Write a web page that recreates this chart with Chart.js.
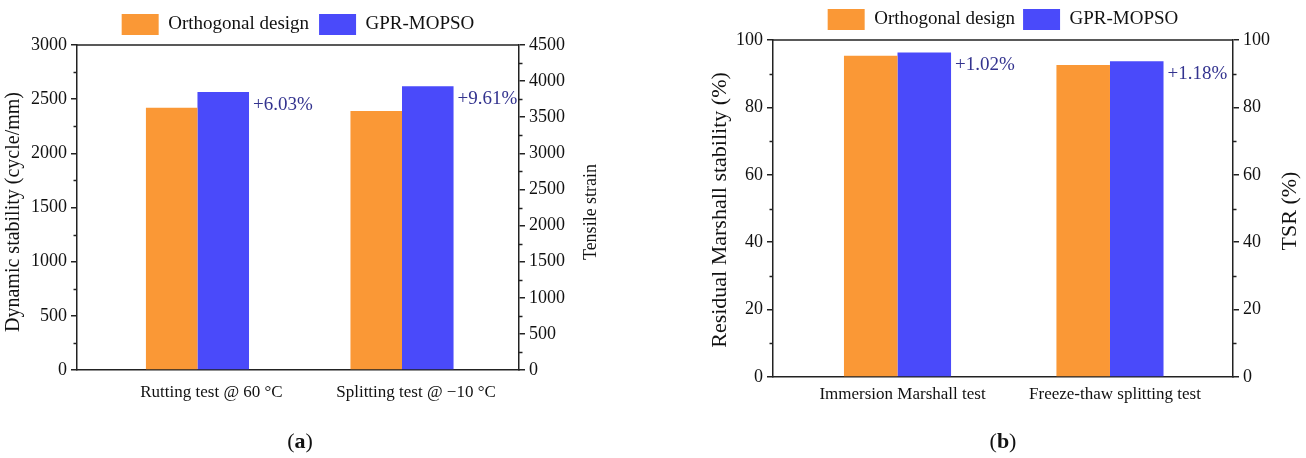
<!DOCTYPE html>
<html><head><meta charset="utf-8">
<script src="https://cdn.jsdelivr.net/npm/chart.js@4"></script>
<style>
html,body{margin:0;padding:0;background:#fff;}
#wrap{position:relative;width:1306px;height:458px;overflow:hidden;}
.pane{position:absolute;top:0;height:458px;}
#pa{left:0;width:640px;}
#pb{left:640px;width:666px;}
</style></head><body>
<div id="wrap">
  <div class="pane" id="pa"><canvas id="ca"></canvas></div>
  <div class="pane" id="pb"><canvas id="cb"></canvas></div>
</div>
<script>
// ---------- data ----------
const seriesNames = ['Orthogonal design', 'GPR-MOPSO'];

const catsA  = ['Rutting test @ 60 °C', 'Splitting test @ −10 °C'];
const orthoA = [2420, 3585];   // 1st on left axis (cycle/mm), 2nd on right axis (tensile strain)
const gprA   = [2566, 3930];
const gainA  = ['+6.03%', '+9.61%'];
const leftTicksA  = [0, 3000, 500];   // min, max, step
const rightTicksA = [0, 4500, 500];

const catsB  = ['Immersion Marshall test', 'Freeze-thaw splitting test'];
const orthoB = [95.3, 92.6];   // 1st on left axis (residual Marshall stability), 2nd on right axis (TSR)
const gprB   = [96.3, 93.7];
const gainB  = ['+1.02%', '+1.18%'];
const leftTicksB  = [0, 100, 20];
const rightTicksB = [0, 100, 20];

// ---------- style ----------
const SERIF = '"Liberation Serif", "DejaVu Serif", serif';
const ORANGE = 'rgb(250,152,54)';
const BLUE = 'rgb(74,74,250)';
const AXIS = '#222';
const TXT = '#111';
const GAINCOL = '#33338f';

// category i is placed at x = i + 1 on a numeric index axis
function makeDatasets(ortho, gpr) {
  const pts = (v0, v1) => [{x: 1, y: v0}, {x: 2, y: v1}];
  return [
    {label: seriesNames[0], data: pts(ortho[0], null), yAxisID: 'y',  backgroundColor: ORANGE, borderColor: ORANGE},
    {label: seriesNames[1], data: pts(gpr[0], null),   yAxisID: 'y',  backgroundColor: BLUE,   borderColor: BLUE},
    {label: seriesNames[0], data: pts(null, ortho[1]), yAxisID: 'y2', backgroundColor: ORANGE, borderColor: ORANGE},
    {label: seriesNames[1], data: pts(null, gpr[1]),   yAxisID: 'y2', backgroundColor: BLUE,   borderColor: BLUE}
  ];
}

function yScale(pos, t, width) {
  return {
    type: 'linear', position: pos, min: t[0], max: t[1],
    ticks: {stepSize: t[2], color: TXT, font: {family: SERIF, size: 18}, padding: 4,
            callback: v => String(v)},
    grid: {drawOnChartArea: false, drawTicks: true, tickLength: 6, color: AXIS, lineWidth: 1.5},
    border: {display: true, color: AXIS, width: 1.5},
    title: {display: false},
    afterFit: s => { s.width = width; }
  };
}

function xScale(cats, range, height, pad, offs) {
  return {
    type: 'linear', offset: false, min: range[0], max: range[1],
    grid: {display: false, drawTicks: false},
    border: {display: true, color: AXIS, width: 1.5},
    ticks: {color: TXT, font: {family: SERIF, size: 17}, padding: pad, labelOffset: offs,
            maxRotation: 0, autoSkip: false,
            callback: v => cats[Math.round(v) - 1]},
    afterBuildTicks: s => { s.ticks = cats.map((c, i) => ({value: i + 1})); },
    afterFit: s => { s.height = height; }
  };
}

const deco = {
  id: 'deco',
  afterDraw(chart, args, o) {
    const ctx = chart.ctx;
    const {left, right, top} = chart.chartArea;
    ctx.save();
    // top frame line
    ctx.strokeStyle = AXIS; ctx.lineWidth = 1.5;
    ctx.beginPath(); ctx.moveTo(left, top); ctx.lineTo(right, top); ctx.stroke();
    // minor ticks
    ['y', 'y2'].forEach(id => {
      const s = chart.scales[id];
      const step = s.options.ticks.stepSize;
      for (let v = s.min + step / 2; v < s.max; v += step) {
        const py = Math.round(s.getPixelForValue(v)) + 0.5;
        ctx.beginPath();
        if (s.position === 'left') { ctx.moveTo(s.right, py); ctx.lineTo(s.right - 3.5, py); }
        else { ctx.moveTo(s.left, py); ctx.lineTo(s.left + 3.5, py); }
        ctx.stroke();
      }
    });
    // gain labels next to the GPR-MOPSO bars
    ctx.fillStyle = GAINCOL;
    ctx.font = `19px ${SERIF}`;
    ctx.textAlign = 'left'; ctx.textBaseline = 'middle';
    [1, 3].forEach((di, k) => {
      const bar = chart.getDatasetMeta(di).data[k];
      if (!bar) return;
      ctx.fillText(o.gains[k], bar.x + bar.width / 2 + 4, bar.y + 13);
    });
    // axis titles (both read bottom-to-top)
    ctx.fillStyle = TXT; ctx.textAlign = 'center';
    o.titles.forEach(t => {
      ctx.save();
      ctx.translate(t.x, t.y);
      ctx.rotate(-Math.PI / 2);
      ctx.font = `${t.size}px ${SERIF}`;
      ctx.fillText(t.text, 0, 0);
      ctx.restore();
    });
    // caption "(a)" / "(b)" with bold letter
    ctx.textAlign = 'left'; ctx.textBaseline = 'middle';
    const fN = `22px ${SERIF}`, fB = `bold 22px ${SERIF}`;
    ctx.font = fN; const wP = ctx.measureText('(').width, wQ = ctx.measureText(')').width;
    ctx.font = fB; const wL = ctx.measureText(o.caption.letter).width;
    let cx = o.caption.x - (wP + wL + wQ) / 2;
    ctx.font = fN; ctx.fillText('(', cx, o.caption.y); cx += wP;
    ctx.font = fB; ctx.fillText(o.caption.letter, cx, o.caption.y); cx += wL;
    ctx.font = fN; ctx.fillText(')', cx, o.caption.y);
    ctx.restore();
  }
};

function makeChart(id, cats, ortho, gpr, gains, lt, rt, cfg) {
  return new Chart(document.getElementById(id), {
    type: 'bar',
    data: {datasets: makeDatasets(ortho, gpr)},
    plugins: [deco],
    options: {
      responsive: true, maintainAspectRatio: false, animation: false,
      devicePixelRatio: 1,
      layout: {padding: {top: cfg.padTop, left: 0, right: 0, bottom: 0}},
      datasets: {bar: {categoryPercentage: 0.504, barPercentage: 1, skipNull: true, borderWidth: 0}},
      plugins: {
        tooltip: {enabled: false},
        legend: {
          position: 'top', fullSize: false,
          labels: {boxWidth: 37, boxHeight: 21, padding: cfg.legPad, color: TXT,
                   font: {family: SERIF, size: 19},
                   filter: item => item.datasetIndex < 2}
        },
        deco: {gains: gains, titles: cfg.titles, caption: cfg.caption}
      },
      scales: {
        x: xScale(cats, cfg.xRange, cfg.xH, cfg.xPad, cfg.xOff),
        y: yScale('left', lt, cfg.yW),
        y2: yScale('right', rt, cfg.y2W)
      }
    }
  });
}

makeChart('ca', catsA, orthoA, gprA, gainA, leftTicksA, rightTicksA, {
  padTop: 4, legPad: 10, xH: 88, xPad: 12, xOff: 14, yW: 77, y2W: 121,
  xRange: [0.411, 2.572],
  titles: [
    {text: 'Dynamic stability (cycle/mm)', x: 14, y: 212, size: 20},
    {text: 'Tensile strain', x: 591, y: 212, size: 18}
  ],
  caption: {letter: 'a', x: 300, y: 442}
});

makeChart('cb', catsB, orthoB, gprB, gainB, leftTicksB, rightTicksB, {
  padTop: 1, legPad: 8, xH: 81, xPad: 7, xOff: 5, yW: 133, y2W: 73,
  xRange: [0.414, 2.579],
  titles: [
    {text: 'Residual Marshall stability (%)', x: 80, y: 210, size: 22},
    {text: 'TSR (%)', x: 650, y: 211, size: 22}
  ],
  caption: {letter: 'b', x: 363, y: 442}
});
</script>
</body></html>
